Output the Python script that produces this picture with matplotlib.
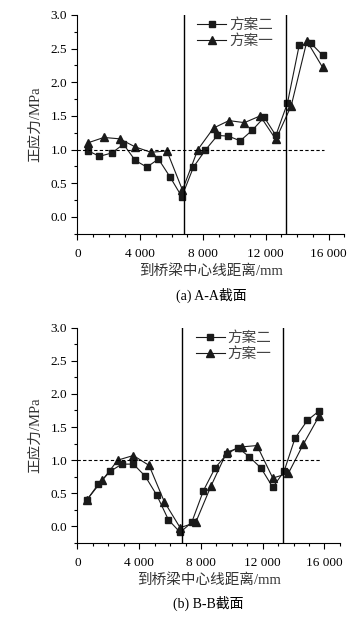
import matplotlib.pyplot as plt
from matplotlib.ticker import MultipleLocator, FuncFormatter

plt.rcParams['font.family'] = ['Liberation Serif', 'Noto Sans CJK SC']

# (a) A-A 截面
a_x2 = [700, 1400, 2190, 2930, 3680, 4420, 5160, 5910, 6650, 7390, 8140,
        8920, 9620, 10370, 11150, 11900, 12640, 13380, 14130, 14870, 15620]
a_y2 = [0.98, 0.90, 0.95, 1.08, 0.84, 0.74, 0.86, 0.59, 0.30, 0.74, 0.99,
        1.21, 1.20, 1.13, 1.29, 1.48, 1.21, 1.69, 2.55, 2.58, 2.40]
a_x1 = [660, 1680, 2680, 3680, 4680, 5700, 6690, 7670, 8670, 9650, 10640,
        11640, 12640, 13620, 14620, 15620]
a_y1 = [1.10, 1.18, 1.16, 1.04, 0.96, 0.98, 0.40, 1.00, 1.32, 1.43, 1.40,
        1.50, 1.15, 1.65, 2.61, 2.22]

# (b) B-B 截面
b_x2 = [610, 1360, 2120, 2870, 3620, 4380, 5140, 5890, 6650, 7400, 8160,
        8910, 9670, 10380, 11130, 11890, 12650, 13380, 14090, 14890, 15640]
b_y2 = [0.40, 0.64, 0.83, 0.94, 0.94, 0.76, 0.47, 0.10, -0.09, 0.06, 0.54,
        0.88, 1.09, 1.19, 1.05, 0.88, 0.59, 0.83, 1.33, 1.60, 1.74]
b_x1 = [610, 1620, 2610, 3620, 4640, 5630, 6650, 7660, 8650, 9670, 10640,
        11630, 12650, 13660, 14630, 15640]
b_y1 = [0.40, 0.70, 1.00, 1.07, 0.92, 0.37, -0.02, 0.06, 0.61, 1.12, 1.20,
        1.22, 0.73, 0.80, 1.24, 1.66]

sections = [(a_x2, a_y2, a_x1, a_y1, '(a) A-A截面'),
            (b_x2, b_y2, b_x1, b_y1, '(b) B-B截面')]
vlines = [6800, 13300]

fig = plt.figure(figsize=(3.62, 6.17), dpi=100)
# axes positions (left, bottom, width, height)
boxes = [[0.214, 0.621, 0.737, 0.355],
         [0.214, 0.120, 0.725, 0.349]]

fmt = FuncFormatter(lambda v, p: '0' if v == 0 else f'{int(v):,}'.replace(',', ' '))

for (x2, y2, x1, y1, cap), box in zip(sections, boxes):
    ax = fig.add_axes(box)
    ax.plot(x2, y2, color='#1a1a1a', lw=0.8, marker='s', ms=4.8, label='方案二')
    ax.plot(x1, y1, color='#1a1a1a', lw=0.8, marker='^', ms=5.5, label='方案一')
    for v in vlines:
        ax.axvline(v, color='black', lw=1.0)
    ax.plot([0, 15700], [1.0, 1.0], color='black', lw=0.8, ls=(0, (3, 2)))

    ax.set_xlim(0, 17000)
    ax.set_ylim(-0.25, 3.0)
    ax.xaxis.set_major_locator(MultipleLocator(4000))
    ax.xaxis.set_minor_locator(MultipleLocator(1000))
    ax.xaxis.set_major_formatter(fmt)
    ax.yaxis.set_major_locator(MultipleLocator(0.5))
    ax.yaxis.set_minor_locator(MultipleLocator(0.25))
    ax.yaxis.set_major_formatter(FuncFormatter(lambda v, p: f'{v:.1f}'))
    ax.tick_params(which='major', direction='out', length=4, width=0.8, labelsize=9.5)
    ax.tick_params(axis='x', which='major', pad=6)
    ax.tick_params(which='minor', direction='out', length=2.5, width=0.8)
    for s in ['top', 'right']:
        ax.spines[s].set_visible(False)

    ax.set_ylabel('正应力/MPa', fontsize=10.5, color='#333333', labelpad=6)
    ax.set_xlabel('到桥梁中心线距离/mm', fontsize=10.5, color='#333333', labelpad=3)
    ax.text(0.5, -0.245, cap, transform=ax.transAxes, ha='center', va='top',
            fontsize=10)
    ax.legend(loc='upper left', bbox_to_anchor=(0.40, 1.045), frameon=False,
              fontsize=10.5, handlelength=2.0, handletextpad=0.2, labelspacing=0.15,
              labelcolor='#444444')

fig.savefig('out.png', dpi=100)
